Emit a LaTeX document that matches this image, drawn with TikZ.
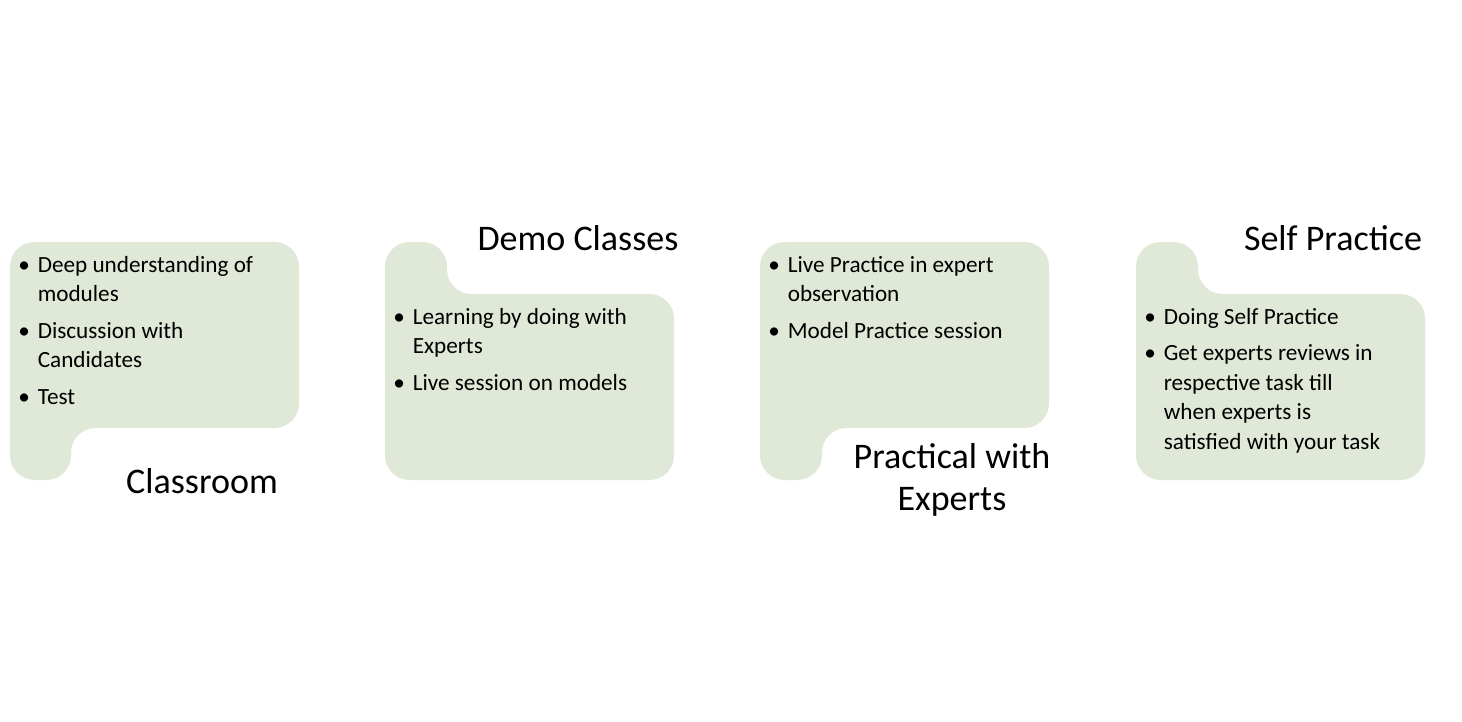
\documentclass[tikz,border=0pt]{standalone}
\usepackage{fontspec}
\setmainfont{Carlito}
\definecolor{panelgreen}{HTML}{E0E8D7}
\tikzset{
  panel/.style={fill=panelgreen, rounded corners=14pt},
  title/.style={font=\fontsize{20.5}{24}\selectfont, align=center},
  points/.style={anchor=north west, inner sep=0pt, font=\fontsize{13.2}{16.8}\selectfont}
}
\newcommand{\pts}[1]{\begin{tabular}{@{}l@{\hspace{4.5pt}}l@{}}#1\end{tabular}}
\begin{document}
\begin{tikzpicture}[x=0.02cm,y=-0.02cm]
        \useasboundingbox (0,0) rectangle (1462,722);
        % panels
        \fill[panel] (10,242) -- (299,242) -- (299,428) -- (71,428) -- (71,480) -- (10,480) -- cycle;
        \fill[panel] (385,242) -- (447,242) -- (447,294) -- (674,294) -- (674,480) -- (385,480) -- cycle;
        \fill[panel] (760,242) -- (1049,242) -- (1049,428) -- (822,428) -- (822,480) -- (760,480) -- cycle;
        \fill[panel] (1136,242) -- (1198,242) -- (1198,294) -- (1425,294) -- (1425,480) -- (1136,480) -- cycle;

        % titles
        \node[title] (classroom) at (202,481) {Classroom};
        \node[title] (demo) at (578,238) {Demo Classes};
        \node[title] (practical) at (952,480) {Practical with\\Experts};
        \node[title] (self) at (1333,238) {Self Practice};

        % points
        \node[points] (classpts) at (18,251) {\pts{\textbullet & Deep understanding of\\ & modules\\[4pt]
            \textbullet & Discussion with\\ & Candidates\\[4pt] \textbullet & Test}};
        \node[points] (demopts) at (393,303) {\pts{\textbullet & Learning by doing with\\ & Experts\\[4pt]
            \textbullet & Live session on models}};
        \node[points] (practpts) at (768,251) {\pts{\textbullet & Live Practice in expert\\ & observation\\[4pt]
            \textbullet & Model Practice session}};
        \node[points] (selfpts) at (1144,303) {\pts{\textbullet & Doing Self Practice\\[4pt]
            \textbullet & Get experts reviews in\\ & respective task till\\ & when experts is\\ & satisfied with your task}};
\end{tikzpicture}
\end{document}
